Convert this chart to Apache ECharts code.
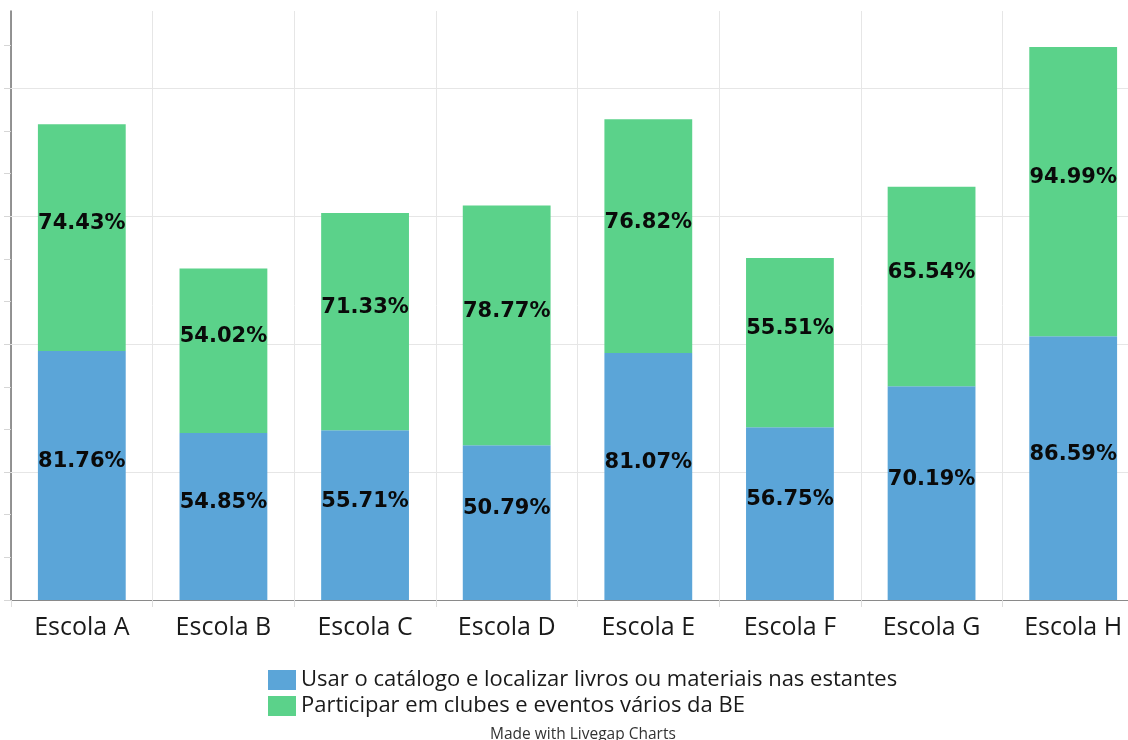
<!DOCTYPE html>
<html>
<head>
<meta charset="utf-8">
<script src="https://cdn.jsdelivr.net/npm/echarts@6/dist/echarts.min.js"></script>
<style>
  html, body { margin: 0; padding: 0; background: #ffffff; overflow: hidden; }
  /* the plot runs a little past the right edge of the window */
  #chart { width: 1144px; height: 740px; }
</style>
</head>
<body>
<div id="chart"></div>
<script>
// Schools on the horizontal axis
const categories = ['Escola A', 'Escola B', 'Escola C', 'Escola D', 'Escola E', 'Escola F', 'Escola G', 'Escola H'];

// Series names (legend)
const seriesNames = [
  'Usar o catálogo e localizar livros ou materiais nas estantes',
  'Participar em clubes e eventos vários da BE'
];

// Percentages per school, stacked
const catalogo = [81.76, 54.85, 55.71, 50.79, 81.07, 56.75, 70.19, 86.59];
const clubes   = [74.43, 54.02, 71.33, 78.77, 76.82, 55.51, 65.54, 94.99];

// Small tick marks on the value axis (labels hidden)
const yTickValues = [0, 14, 28, 42, 56, 70, 84, 98, 112, 126, 140, 154, 168, 182];
// Horizontal grid lines
const yGridValues = [42, 84, 126, 168];

const footerText = 'Made with Livegap Charts';

const colors = ['#5ba5d8', '#5bd28a'];

const chart = echarts.init(document.getElementById('chart'), null, { renderer: 'canvas' });

const valueLabel = {
  show: true,
  position: 'inside',
  offset: [0, -14],
  formatter: p => p.value + '%',
  color: '#0a0a0a',
  fontFamily: 'DejaVu Sans',
  fontWeight: 'bold',
  fontSize: 21
};

const yMax = 193.4;

chart.setOption({
  animation: false,
  backgroundColor: '#ffffff',
  color: colors,
  grid: { left: 11, top: 11, right: 0, bottom: 140, containLabel: false },
  xAxis: {
    type: 'category',
    data: categories,
    boundaryGap: true,
    axisLine: { show: true, lineStyle: { color: '#8a8a8a', width: 1.2 } },
    axisTick: { show: true, alignWithLabel: false, length: 7, lineStyle: { color: '#dddddd' } },
    axisLabel: { color: '#1a1a1a', fontFamily: 'Open Sans', fontSize: 25, margin: 15 },
    splitLine: { show: true, lineStyle: { color: '#e6e6e6', width: 1 } }
  },
  yAxis: {
    type: 'value',
    min: 0,
    max: yMax,
    interval: 14,
    axisLine: { show: true, lineStyle: { color: '#7a7a7a', width: 1.6 } },
    axisTick: { show: true, length: 7, customValues: yTickValues, lineStyle: { color: '#d6d6d6' } },
    axisLabel: { show: false },
    splitLine: { show: false }
  },
  legend: {
    orient: 'vertical',
    left: 268,
    top: 669,
    padding: 0,
    itemWidth: 28,
    itemHeight: 20,
    itemGap: 4,
    icon: 'rect',
    data: seriesNames,
    textStyle: { color: '#1a1a1a', fontFamily: 'Open Sans', fontSize: 22, lineHeight: 20 }
  },
  graphic: [{
    type: 'text',
    left: 490,
    top: 727,
    style: { text: footerText, fill: '#333333', font: '15.5px "Open Sans"' }
  }],
  series: [
    {
      name: seriesNames[0],
      type: 'bar',
      stack: 'total',
      barWidth: '62%',
      data: catalogo,
      label: valueLabel,
      markLine: {
        silent: true,
        z: 1,
        symbol: 'none',
        animation: false,
        label: { show: false },
        emphasis: { disabled: true },
        lineStyle: { type: 'solid', color: '#e6e6e6', width: 1 },
        data: yGridValues.map(v => ({ yAxis: v }))
      }
    },
    {
      name: seriesNames[1],
      type: 'bar',
      stack: 'total',
      barWidth: '62%',
      data: clubes,
      label: valueLabel
    }
  ]
});
</script>
</body>
</html>
